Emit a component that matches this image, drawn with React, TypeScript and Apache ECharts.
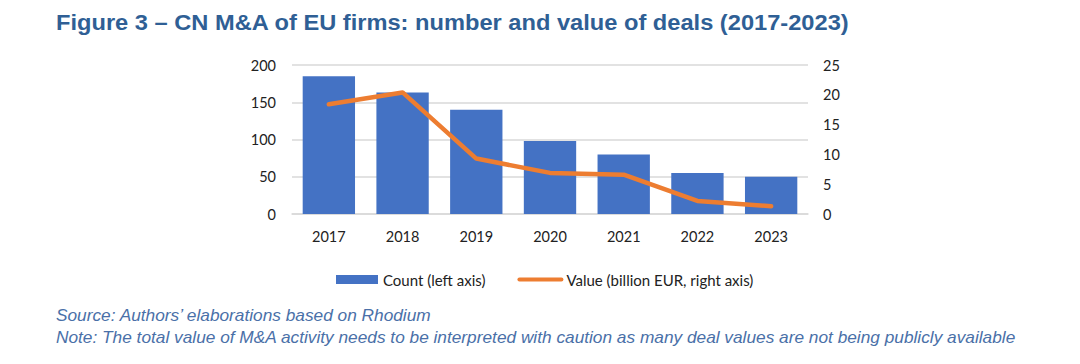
import React, { useEffect, useRef } from "react";
import * as echarts from "echarts";

const years = ["2017", "2018", "2019", "2020", "2021", "2022", "2023"];
const countDeals = [185, 163, 140, 98, 80, 55, 50];
const valueBnEur = [18.4, 20.4, 9.3, 6.9, 6.6, 2.2, 1.3];

const titleText = "Figure 3 – CN M&A of EU firms: number and value of deals (2017-2023)";
const sourceText = "Source: Authors’ elaborations based on Rhodium";
const noteText =
  "Note: The total value of M&A activity needs to be interpreted with caution as many deal values are not being publicly available";

const tickFont = "Lato, 'Open Sans', 'Noto Sans', sans-serif";

export default function App() {
  const ref = useRef<HTMLDivElement>(null);
  useEffect(() => {
    if (!ref.current) return;
    const chart = echarts.init(ref.current, null, { renderer: "svg" });
    chart.setOption({
      animation: false,
      backgroundColor: "#ffffff",
      textStyle: { fontFamily: tickFont },
      grid: { left: 292, right: 272, top: 65, bottom: 150, containLabel: false },
      legend: {
        left: 331,
        top: 267,
        itemWidth: 42,
        itemHeight: 9,
        itemGap: 32,
        textStyle: { fontSize: 15, color: "#222", fontFamily: tickFont },
        data: [
          { name: "Count (left axis)", icon: "rect" },
          {
            name: "Value (billion EUR, right axis)",
            itemStyle: { color: "rgba(0,0,0,0)", borderWidth: 0 },
            lineStyle: { color: "#ED7D31", width: 4, cap: "round" },
          },
        ],
      },
      xAxis: {
        type: "category",
        data: years,
        axisLine: { show: true, lineStyle: { color: "#D9D9D9", width: 1.5 } },
        axisTick: { show: false },
        axisLabel: { color: "#222", fontSize: 14.5, margin: 15, fontFamily: tickFont },
      },
      yAxis: [
        {
          type: "value",
          min: 0,
          max: 200,
          interval: 50,
          axisLine: { show: false },
          axisTick: { show: false },
          axisLabel: { color: "#222", fontSize: 14.5, margin: 16, fontFamily: tickFont },
          splitLine: { lineStyle: { color: "#D9D9D9", width: 1.5 } },
        },
        {
          type: "value",
          min: 0,
          max: 25,
          interval: 5,
          axisLine: { show: false },
          axisTick: { show: false },
          axisLabel: { color: "#222", fontSize: 14.5, margin: 15, fontFamily: tickFont },
          splitLine: { show: false },
        },
      ],
      series: [
        {
          name: "Count (left axis)",
          type: "bar",
          data: countDeals,
          yAxisIndex: 0,
          barCategoryGap: "29%",
          itemStyle: { color: "#4472C4" },
        },
        {
          name: "Value (billion EUR, right axis)",
          type: "line",
          data: valueBnEur,
          yAxisIndex: 1,
          symbol: "none",
          lineStyle: { color: "#ED7D31", width: 4.5, cap: "round", join: "round" },
          itemStyle: { color: "#ED7D31" },
        },
      ],
      graphic: [
        {
          type: "text",
          x: 56,
          y: 12,
          scaleX: 1.1,
          style: {
            text: titleText,
            font: "bold 21.5px 'Liberation Sans', Arial, sans-serif",
            fill: "#2F5F95",
            textAlign: "left",
            textVerticalAlign: "top",
          },
        },
        {
          type: "text",
          x: 56,
          y: 308,
          scaleX: 1.08,
          style: {
            text: sourceText,
            font: "italic 16px 'Liberation Sans', Arial, sans-serif",
            fill: "#4A70A8",
            textAlign: "left",
            textVerticalAlign: "top",
          },
        },
        {
          type: "text",
          x: 56,
          y: 330,
          scaleX: 1.08,
          style: {
            text: noteText,
            font: "italic 16px 'Liberation Sans', Arial, sans-serif",
            fill: "#4A70A8",
            textAlign: "left",
            textVerticalAlign: "top",
          },
        },
      ],
    });
    return () => chart.dispose();
  }, []);
  return (
    <div
      ref={ref}
      style={{ position: "fixed", left: 0, top: 0, width: 1080, height: 364 }}
    />
  );
}
